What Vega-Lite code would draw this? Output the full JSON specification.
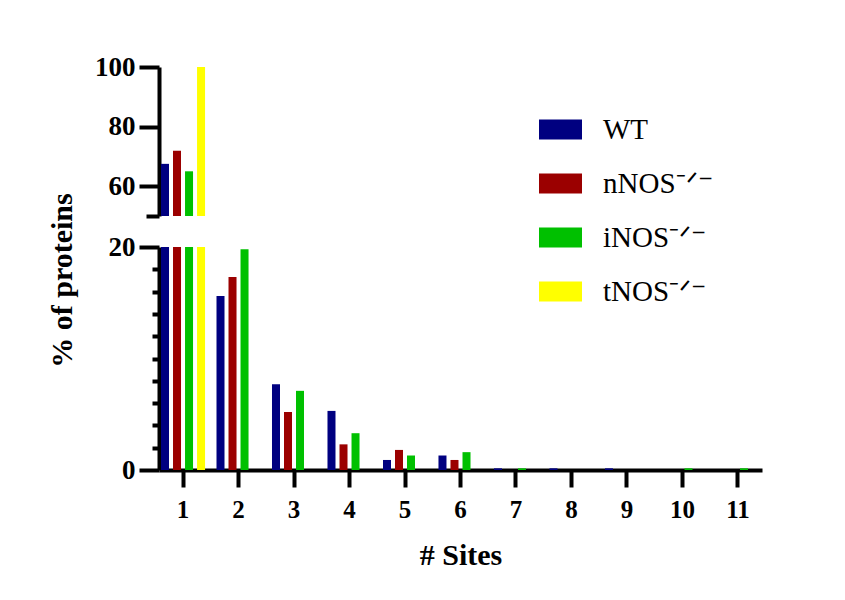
{
  "$schema": "https://vega.github.io/schema/vega-lite/v6.json",
  "background": "white",
  "padding": {"left": 47, "top": 53, "right": 5, "bottom": 5},
  "bounds": "flush",
  "spacing": 31,
  "resolve": {"scale": {"xOffset": "independent"}},
  "datasets": {
    "d": [
      {"site": 1, "genotype": "WT", "value": 67.5},
      {"site": 1, "genotype": "nNOS", "value": 71.9},
      {"site": 1, "genotype": "iNOS", "value": 65.0},
      {"site": 1, "genotype": "tNOS", "value": 100},
      {"site": 2, "genotype": "WT", "value": 15.6},
      {"site": 2, "genotype": "nNOS", "value": 17.3},
      {"site": 2, "genotype": "iNOS", "value": 19.8},
      {"site": 3, "genotype": "WT", "value": 7.7},
      {"site": 3, "genotype": "nNOS", "value": 5.2},
      {"site": 3, "genotype": "iNOS", "value": 7.1},
      {"site": 4, "genotype": "WT", "value": 5.3},
      {"site": 4, "genotype": "nNOS", "value": 2.3},
      {"site": 4, "genotype": "iNOS", "value": 3.3},
      {"site": 5, "genotype": "WT", "value": 0.9},
      {"site": 5, "genotype": "nNOS", "value": 1.8},
      {"site": 5, "genotype": "iNOS", "value": 1.3},
      {"site": 6, "genotype": "WT", "value": 1.3},
      {"site": 6, "genotype": "nNOS", "value": 0.9},
      {"site": 6, "genotype": "iNOS", "value": 1.6},
      {"site": 7, "genotype": "WT", "value": 0.15},
      {"site": 7, "genotype": "iNOS", "value": 0.15},
      {"site": 8, "genotype": "WT", "value": 0.15},
      {"site": 9, "genotype": "WT", "value": 0.15},
      {"site": 10, "genotype": "iNOS", "value": 0.15},
      {"site": 11, "genotype": "iNOS", "value": 0.15}
    ]
  },
  "config": {
    "view": {"stroke": null},
    "axis": {
      "domainColor": "black",
      "domainWidth": 4,
      "tickColor": "black",
      "tickWidth": 4,
      "grid": false,
      "labelFont": "Liberation Serif",
      "labelFontWeight": "bold",
      "labelColor": "black",
      "titleFont": "Liberation Serif",
      "titleFontWeight": "bold",
      "titleColor": "black"
    }
  },
  "vconcat": [
    {
      "width": 603,
      "height": 149,
      "data": {"name": "d"},
      "transform": [{"filter": "datum.value >= 50"}],
      "mark": {"type": "bar"},
      "encoding": {
        "x": {
          "field": "site",
          "type": "ordinal",
          "scale": {"domain": [1, 2, 3, 4, 5, 6, 7, 8, 9, 10, 11], "paddingInner": 0.134, "paddingOuter": 0},
          "axis": null
        },
        "xOffset": {
          "field": "genotype",
          "type": "nominal",
          "scale": {"domain": ["WT", "nNOS", "iNOS", "tNOS"], "paddingInner": 0.3333, "paddingOuter": 0.1667}
        },
        "y": {
          "field": "value",
          "type": "quantitative",
          "scale": {"domain": [50, 100], "zero": false, "nice": false, "clamp": true},
          "axis": {
            "values": [50, 60, 80, 100],
            "labelExpr": "datum.value === 50 ? '' : datum.label",
            "tickSize": {"condition": {"test": "datum.value === 50", "value": 13}, "value": 20},
            "labelFontSize": 27,
            "labelPadding": 4,
            "title": "% of proteins",
            "titleFontSize": 30,
            "titleAngle": -90,
            "titleAlign": "center",
            "titleBaseline": "middle",
            "titleX": -97,
            "titleY": 213
          }
        },
        "y2": {"datum": 50},
        "color": {
          "field": "genotype",
          "type": "nominal",
          "scale": {"domain": ["WT", "nNOS", "iNOS", "tNOS"], "range": ["#000080", "#9b0000", "#00c000", "#ffff00"]},
          "legend": {
            "title": null,
            "orient": "none",
            "legendX": 380,
            "legendY": 41,
            "symbolType": "M-1,-0.465H1V0.465H-1Z",
            "symbolSize": 1849,
            "symbolStrokeWidth": 0,
            "labelFont": "Liberation Serif",
            "labelFontSize": 29,
            "labelColor": "black",
            "labelOffset": 21,
            "rowPadding": 17,
            "labelExpr": "datum.label === 'WT' ? 'WT' : datum.label + '⁻ᐟ⁻'"
          }
        }
      }
    },
    {
      "width": 603,
      "height": 223,
      "data": {"name": "d"},
      "mark": {"type": "bar"},
      "encoding": {
        "x": {
          "field": "site",
          "type": "ordinal",
          "scale": {"domain": [1, 2, 3, 4, 5, 6, 7, 8, 9, 10, 11], "paddingInner": 0.134, "paddingOuter": 0},
          "axis": {
            "labelAngle": 0,
            "labelFontSize": 25,
            "tickSize": 17,
            "labelPadding": 10,
            "title": "# Sites",
            "titleFontSize": 30,
            "titlePadding": 18
          }
        },
        "xOffset": {
          "field": "genotype",
          "type": "nominal",
          "scale": {"domain": ["WT", "nNOS", "iNOS", "tNOS"], "paddingInner": 0.3333, "paddingOuter": 0.1667}
        },
        "y": {
          "field": "value",
          "type": "quantitative",
          "scale": {"domain": [0, 20], "nice": false, "clamp": true},
          "axis": {
            "values": [0, 2, 4, 6, 8, 10, 12, 14, 16, 18, 20],
            "labelExpr": "datum.value % 20 === 0 ? datum.label : ''",
            "tickSize": {"condition": {"test": "datum.value % 20 === 0", "value": 20}, "value": 7},
            "labelFontSize": 27,
            "labelPadding": 4,
            "title": null
          }
        },
        "color": {
          "field": "genotype",
          "type": "nominal",
          "scale": {"domain": ["WT", "nNOS", "iNOS", "tNOS"], "range": ["#000080", "#9b0000", "#00c000", "#ffff00"]},
          "legend": {
            "title": null,
            "orient": "none",
            "legendX": 380,
            "legendY": 41,
            "symbolType": "M-1,-0.465H1V0.465H-1Z",
            "symbolSize": 1849,
            "symbolStrokeWidth": 0,
            "labelFont": "Liberation Serif",
            "labelFontSize": 29,
            "labelColor": "black",
            "labelOffset": 21,
            "rowPadding": 17,
            "labelExpr": "datum.label === 'WT' ? 'WT' : datum.label + '⁻ᐟ⁻'"
          }
        }
      }
    }
  ]
}
